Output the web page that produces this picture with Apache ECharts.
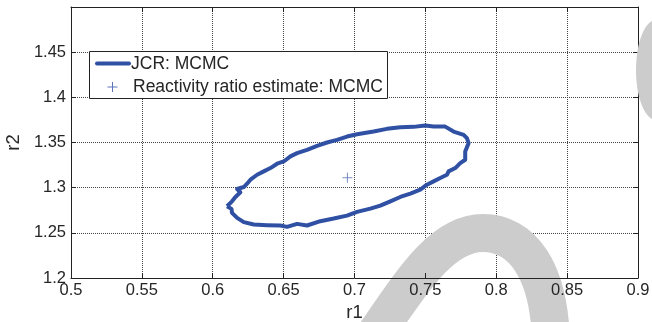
<!DOCTYPE html>
<html>
<head>
<meta charset="utf-8">
<script src="https://cdn.jsdelivr.net/npm/echarts@6/dist/echarts.min.js"></script>
<style>
  html, body { margin: 0; padding: 0; background: #fff; }
  #chart { width: 652px; height: 322px; }
</style>
</head>
<body>
<div id="chart"></div>
<script>
// joint confidence region (MCMC), traced round the contour
var jcrR1 = [0.6101, 0.6136, 0.6160, 0.6195, 0.6172, 0.6219, 0.6242, 0.6266, 0.6313, 0.6360,
  0.6407, 0.6454, 0.6501, 0.6548, 0.6595, 0.6665, 0.6736, 0.6806, 0.6877, 0.6947,
  0.7018, 0.7135, 0.7229, 0.7323, 0.7417, 0.7499, 0.7558, 0.7640, 0.7699, 0.7770,
  0.7793, 0.7805, 0.7781, 0.7781, 0.7746, 0.7711, 0.7664, 0.7652, 0.7605, 0.7558,
  0.7511, 0.7464, 0.7394, 0.7323, 0.7253, 0.7182, 0.7112, 0.7018, 0.6947, 0.6853,
  0.6759, 0.6665, 0.6595, 0.6524, 0.6477, 0.6383, 0.6289, 0.6219, 0.6172, 0.6136,
  0.6132, 0.6101];
var jcrR2 = [1.2794, 1.2849, 1.2897, 1.2949, 1.2985, 1.3007, 1.3044, 1.3088, 1.3143, 1.3180,
  1.3217, 1.3265, 1.3290, 1.3346, 1.3382, 1.3419, 1.3463, 1.3500, 1.3529, 1.3566,
  1.3592, 1.3621, 1.3651, 1.3669, 1.3673, 1.3688, 1.3676, 1.3676, 1.3621, 1.3585,
  1.3548, 1.3493, 1.3401, 1.3309, 1.3272, 1.3217, 1.3180, 1.3143, 1.3107, 1.3070,
  1.3033, 1.2978, 1.2934, 1.2897, 1.2849, 1.2801, 1.2768, 1.2732, 1.2691, 1.2658,
  1.2629, 1.2581, 1.2599, 1.2566, 1.2581, 1.2585, 1.2592, 1.2618, 1.2665, 1.2721,
  1.2765, 1.2794];
// point estimate
var estR1 = [0.695];
var estR2 = [1.311];

var jcrData = jcrR1.map(function (v, i) { return [v, jcrR2[i]]; });
var estData = estR1.map(function (v, i) { return [v, estR2[i]]; });

var textColor = '#262626';
var font = 'Liberation Sans, Arial, sans-serif';
var lineColor = '#2f50a3';
var plusColor = '#5b73bb';
var gridLine = { show: true, lineStyle: { color: '#444', type: [1, 1], width: 1 } };

var myChart = echarts.init(document.getElementById('chart'));
var option = {
    animation: false,
    backgroundColor: '#fff',
    grid: { left: 71, right: 14, top: 7, bottom: 44, outerBoundsMode: 'none', containLabel: false },
    xAxis: [
        {
            type: 'value', min: 0.5, max: 0.9, interval: 0.05, z: 5,
            name: 'r1', nameLocation: 'middle', nameGap: 25,
            nameTextStyle: { color: textColor, fontSize: 18.5, fontFamily: font },
            axisLine: { show: true, onZero: false, lineStyle: { color: '#222', width: 1 } },
            axisTick: { show: true, inside: true, length: 5, lineStyle: { color: '#222' } },
            axisLabel: { color: textColor, fontSize: 16.5, fontFamily: font, margin: 4 },
            splitLine: { show: false }
        },
        {
            // top frame; also carries the vertical grid lines under the watermark
            type: 'value', min: 0.5, max: 0.9, interval: 0.05, position: 'top',
            axisLine: { show: true, onZero: false, lineStyle: { color: '#222', width: 1 } },
            axisTick: { show: true, inside: true, length: 5, lineStyle: { color: '#222' } },
            axisLabel: { show: false },
            splitLine: gridLine
        }
    ],
    yAxis: [
        {
            type: 'value', min: 1.2, max: 1.5, interval: 0.05, z: 5,
            name: 'r2', nameLocation: 'middle', nameGap: 48,
            nameTextStyle: { color: textColor, fontSize: 18.5, fontFamily: font },
            axisLine: { show: true, onZero: false, lineStyle: { color: '#222', width: 1 } },
            axisTick: { show: true, inside: true, length: 5, lineStyle: { color: '#222' } },
            axisLabel: { color: textColor, fontSize: 16.5, fontFamily: font, margin: 5, showMaxLabel: false },
            splitLine: { show: false }
        },
        {
            type: 'value', min: 1.2, max: 1.5, interval: 0.05, position: 'right',
            axisLine: { show: true, onZero: false, lineStyle: { color: '#222', width: 1 } },
            axisTick: { show: true, inside: true, length: 5, lineStyle: { color: '#222' } },
            axisLabel: { show: false },
            splitLine: gridLine
        }
    ],
    series: [
        {
            name: 'JCR: MCMC',
            type: 'line',
            data: jcrData,
            showSymbol: false,
            lineStyle: { color: lineColor, width: 4, join: 'round' },
            z: 3
        },
        {
            name: 'Reactivity ratio estimate: MCMC',
            type: 'scatter',
            data: estData,
            symbol: 'path://M5,0L5,10M0,5L10,5',
            symbolSize: 10,
            itemStyle: { color: 'none', borderColor: plusColor, borderWidth: 1 },
            z: 3
        }
    ],
    graphic: [
        // legend box
        {
            type: 'rect', z: 10,
            shape: { x: 89.5, y: 51.5, width: 298, height: 47 },
            style: { fill: '#fff', stroke: '#222', lineWidth: 1 }
        },
        {
            type: 'line', z: 11,
            shape: { x1: 97, y1: 63.5, x2: 129, y2: 63.5 },
            style: { stroke: lineColor, lineWidth: 4, lineCap: 'round' }
        },
        {
            type: 'text', z: 11, x: 131, y: 64,
            style: { text: 'JCR: MCMC', fill: textColor, fontSize: 17.5, fontFamily: font, verticalAlign: 'middle' }
        },
        {
            type: 'line', z: 11,
            shape: { x1: 112.5, y1: 82, x2: 112.5, y2: 92 },
            style: { stroke: plusColor, lineWidth: 1 }
        },
        {
            type: 'line', z: 11,
            shape: { x1: 107.5, y1: 87, x2: 117.5, y2: 87 },
            style: { stroke: plusColor, lineWidth: 1 }
        },
        {
            type: 'text', z: 11, x: 133, y: 87,
            style: { text: 'Reactivity ratio estimate: MCMC', fill: textColor, fontSize: 17.5, fontFamily: font, verticalAlign: 'middle' }
        },
        // grey watermark strokes
        {
            type: 'bezierCurve', z: 1, silent: true,
            shape: { x1: 368, y1: 345, cpx1: 410, cpy1: 285, cpx2: 440, cpy2: 233, x2: 483, y2: 233 },
            style: { stroke: '#cccccc', lineWidth: 38, fill: 'none' }
        },
        {
            type: 'bezierCurve', z: 1, silent: true,
            shape: { x1: 483, y1: 233, cpx1: 522, cpy1: 233, cpx2: 550, cpy2: 270, x2: 551, y2: 345 },
            style: { stroke: '#cccccc', lineWidth: 38, fill: 'none' }
        },
        {
            type: 'ellipse', z: 1, silent: true,
            shape: { cx: 656, cy: 70, rx: 20, ry: 50 },
            style: { fill: '#cccccc' }
        }
    ]
};
myChart.setOption(option);
</script>
</body>
</html>
